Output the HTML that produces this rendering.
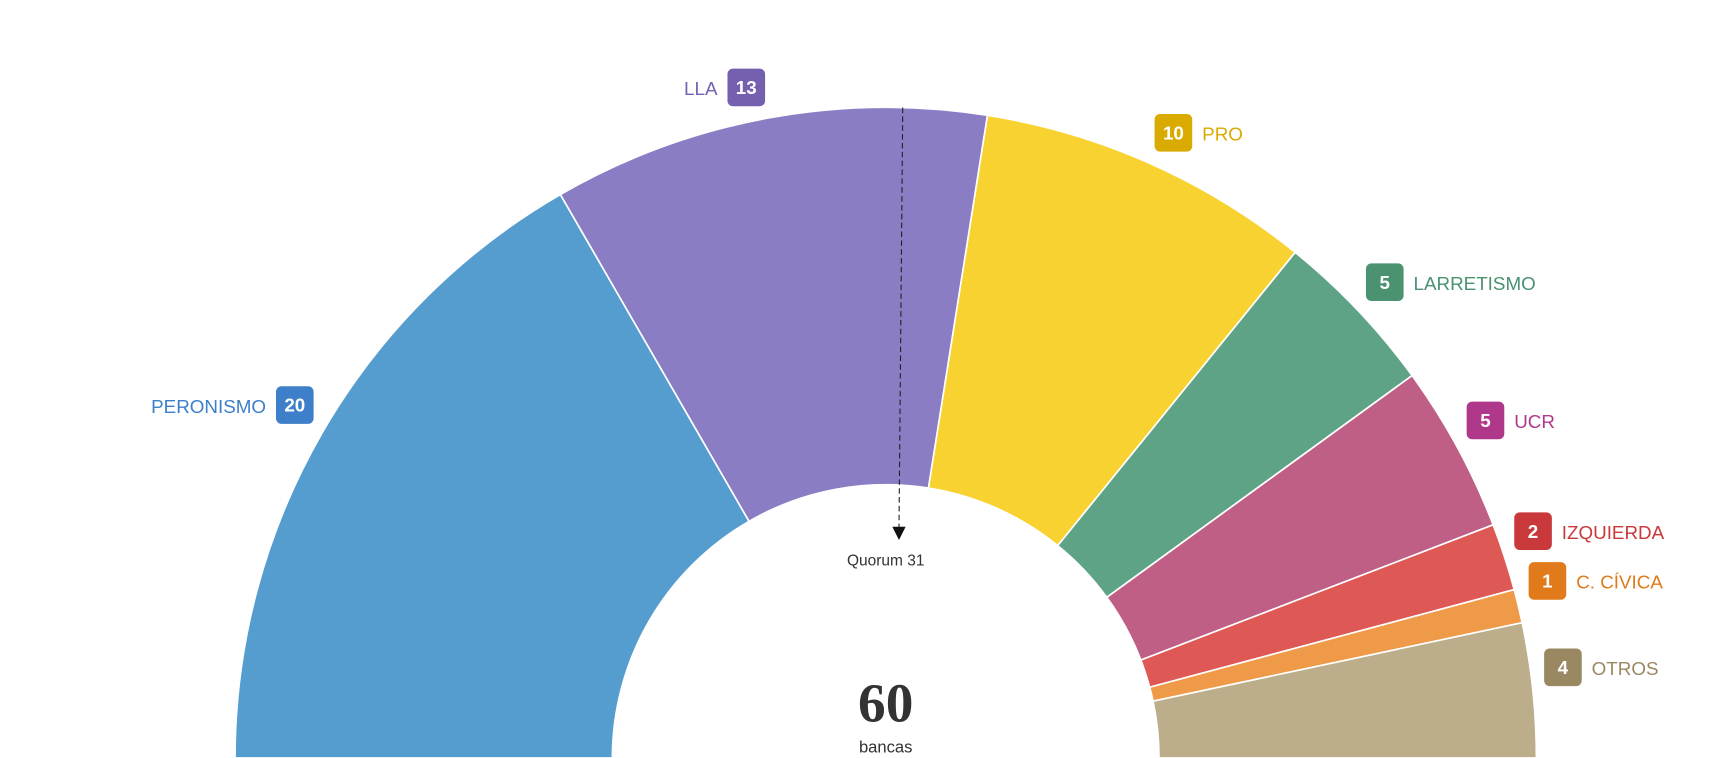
<!DOCTYPE html>
<html><head><meta charset="utf-8">
<style>
html,body{margin:0;padding:0;background:#fff;width:1736px;height:758px;overflow:hidden}
svg{display:block}
text{font-family:"Liberation Sans",sans-serif}
</style></head>
<body>
<svg id="chart" width="1736" height="758" viewBox="0 0 1568 685" xmlns="http://www.w3.org/2000/svg">
<g id="arcs"></g>
<g id="labels"></g>
<g id="quorum"></g>
<text id="total" x="800" y="652" text-anchor="middle" font-family="Liberation Serif,serif" font-weight="bold" font-size="50" fill="#333" style="font-family:'Liberation Serif',serif">60</text>
<text x="800" y="680" text-anchor="middle" font-size="15" fill="#333">bancas</text>
</svg>
<script>
const parties = ["PERONISMO","LLA","PRO","LARRETISMO","UCR","IZQUIERDA","C. CÍVICA","OTROS"];
const seats = [20,13,10,5,5,2,1,4];
const quorum = 31;
const fills = ["#559dcf","#8b7dc4","#f7d230","#5fa386","#c05f85","#de5856","#ef9a48","#bcae8a"];
const badgeColors = ["#3d7fc8","#7560b0","#d9ab00","#4a9270","#b0388a","#c9383b","#e07a1a","#9a8863"];
const names = ["peronismo","lla","pro","larretismo","ucr","izquierda","c-civica","otros"];
// label layout (badge top-left x,y; side)
const labelPos = [[249,349,"left"],[657,62,"left"],[1043,103,"right"],[1234,238,"right"],[1325,363,"right"],[1368,463,"right"],[1381,508,"right"],[1395,586,"right"]];
const NS="http://www.w3.org/2000/svg";
const cx=800, cy=685, R=588, r=247;
const total = seats.reduce((a,b)=>a+b,0);
document.getElementById('total').textContent = total;
function ang(s){return Math.PI - s/total*Math.PI;}
function pt(a,rad){return [cx+rad*Math.cos(a), cy-rad*Math.sin(a)];}
const arcs=document.getElementById('arcs');
let acc=0;
seats.forEach((v,i)=>{
  const a0=ang(acc), a1=ang(acc+v); acc+=v;
  const p0=pt(a0,R),p1=pt(a1,R),p2=pt(a1,r),p3=pt(a0,r);
  const large=(a0-a1)>Math.PI?1:0;
  const d=`M${p0[0]},${p0[1]} A${R},${R} 0 ${large} 1 ${p1[0]},${p1[1]} L${p2[0]},${p2[1]} A${r},${r} 0 ${large} 0 ${p3[0]},${p3[1]} Z`;
  const path=document.createElementNS(NS,'path');
  path.setAttribute('d',d);
  path.setAttribute('fill',fills[i]);
  path.setAttribute('stroke','#fff');
  path.setAttribute('stroke-width','1.5');
  
  
  arcs.appendChild(path);
});
const labels=document.getElementById('labels');
parties.forEach((p,i)=>{
  const [bx,by,side]=labelPos[i];
  const g=document.createElementNS(NS,'g');
  
  
  const rect=document.createElementNS(NS,'rect');
  rect.setAttribute('x',bx);rect.setAttribute('y',by);rect.setAttribute('width',34);rect.setAttribute('height',34);rect.setAttribute('rx',5);
  rect.setAttribute('fill',badgeColors[i]);
  
  
  g.appendChild(rect);
  const num=document.createElementNS(NS,'text');
  num.setAttribute('x',bx+17);num.setAttribute('y',by+23);num.setAttribute('text-anchor','middle');
  num.setAttribute('font-size','17');num.setAttribute('font-weight','bold');num.setAttribute('fill','#fff');
  num.textContent=seats[i];
  
  
  g.appendChild(num);
  const t=document.createElementNS(NS,'text');
  if(side==="left"){t.setAttribute('x',bx-9);t.setAttribute('text-anchor','end');}
  else{t.setAttribute('x',bx+43);t.setAttribute('text-anchor','start');}
  t.setAttribute('y',by+24);t.setAttribute('font-size','17');t.setAttribute('fill',badgeColors[i]);
  t.textContent=p;
  
  
  g.appendChild(t);
  labels.appendChild(g);
});
const q=document.getElementById('quorum');
const qa=ang(quorum-0.5+0.5*0); // boundary position
const qa2=ang(quorum);
const qs=pt(Math.PI - (quorum-0.5)/total*Math.PI + 0,R);
const qaMid=Math.PI-(quorum-0.5)/total*Math.PI;
const qTop=pt(qaMid,R);
const qEnd=[812,478];
const line=document.createElementNS(NS,'line');
line.setAttribute('x1',qTop[0]);line.setAttribute('y1',qTop[1]);line.setAttribute('x2',qEnd[0]);line.setAttribute('y2',qEnd[1]);
line.setAttribute('stroke','#222');line.setAttribute('stroke-width','1');line.setAttribute('stroke-dasharray','5,3');


q.appendChild(line);
const arrow=document.createElementNS(NS,'path');
arrow.setAttribute('d',`M${qEnd[0]-6},${qEnd[1]-2} L${qEnd[0]+6},${qEnd[1]-2} L${qEnd[0]},${qEnd[1]+10} Z`);
arrow.setAttribute('fill','#111');


q.appendChild(arrow);
const qt=document.createElementNS(NS,'text');
qt.setAttribute('x',800);qt.setAttribute('y',511);qt.setAttribute('text-anchor','middle');qt.setAttribute('font-size','14');qt.setAttribute('fill','#333');
qt.textContent='Quorum '+quorum;


q.appendChild(qt);
</script>
</body></html>
